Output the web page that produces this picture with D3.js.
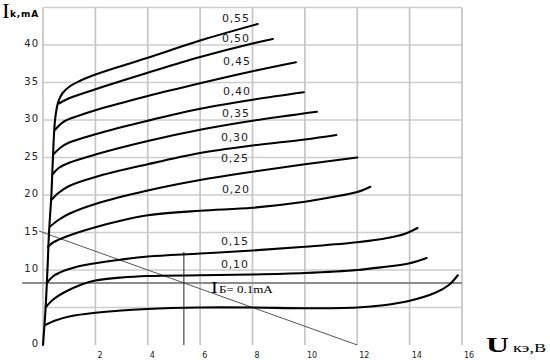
<!DOCTYPE html>
<html>
<head>
<meta charset="utf-8">
<script src="https://cdn.jsdelivr.net/npm/d3@7"></script>
<style>
  html, body { margin: 0; padding: 0; background: #fff; }
  svg { display: block; }
</style>
</head>
<body>
<svg id="chart" width="550" height="360"></svg>
<script>
// ---- data (Uкэ in V, Ik in mA) ----
const xTicks = [2, 4, 6, 8, 10, 12, 14, 16];
const yTicks = [0, 10, 15, 20, 25, 30, 35, 40];
const xGrid = [0, 2, 4, 6, 8, 10, 12, 14, 16];
const yGrid = [5, 10, 15, 20, 25, 30, 35, 40, 45];

const curveLabels = ["0,55", "0,50", "0,45", "0,40", "0,35", "0,30", "0,25", "0,20", "0,15", "0,10", "IБ"];

const ib055 = [[0,0],[0.1,5],[0.17,10],[0.23,15],[0.32,20],[0.38,25],[0.46,30],[0.58,32.4],[0.75,33.6],[1.03,34.5],[1.4,35.2],[1.8,35.8],[3,37.2],[4,38.3],[6,40.6],[8.2,42.8]];
const ib050 = [[0.6,32.2],[1,32.9],[2,34.1],[4,36.3],[6,38.4],[8,40.2],[8.78,40.8]];
const ib045 = [[0.46,28.7],[0.8,29.8],[1.3,30.5],[2,31.3],[4,33.2],[6,34.9],[8,36.5],[9.66,37.7]];
const ib040 = [[0.39,25.4],[0.7,26.4],[1,27],[2,28.1],[4,29.9],[6,31.5],[8,32.7],[9.96,33.7]];
const ib035 = [[0.35,22.7],[0.6,23.6],[1,24.3],[2,25.4],[4,27.2],[6,28.7],[8,29.9],[10.46,31.1]];
const ib030 = [[0.31,19.3],[0.6,20.3],[1,21.2],[2,22.4],[4,24.1],[6,25.6],[8,26.6],[10,27.4],[11.2,28]];
const ib025 = [[0.27,15.8],[0.6,16.7],[1,17.5],[2,18.8],[4,20.6],[6,22],[8,23.1],[10,24.1],[12,25]];
const ib020 = [[0.19,13.1],[0.4,13.7],[1,14.6],[2,15.7],[3,16.6],[4,17.3],[6,17.9],[8,18.3],[10,19.1],[11,19.7],[12,20.4],[12.5,21.1]];
const ib015 = [[0.15,8.3],[0.4,9.2],[0.8,9.9],[1.5,10.6],[2,10.9],[3,11.4],[4,11.8],[6,12.2],[8,12.6],[10,13.1],[12,13.7],[13.2,14.3],[13.8,14.8],[14.3,15.6]];
const ib010 = [[0.11,5.07],[0.4,6.1],[0.8,7],[1.5,8.1],[2,8.6],[3,9],[4,9.2],[6,9.3],[8,9.4],[10,9.6],[12,10],[13,10.4],[14,10.9],[14.65,11.6]];
const ib005 = [[0.08,2.67],[0.5,3.3],[1,3.8],[2,4.3],[4,4.8],[6,5.0],[8,5.0],[10,4.9],[12,5.0],[13,5.3],[14,5.9],[15,7.0],[15.5,8.0],[15.84,9.3]];

const loadLine = [[-0.15,15.19],[12,0]];
const opLevel = [[-0.8,8.27],[16,8.27]];
const opVertical = [[5.38,0],[5.38,12.4]];

// ---- drawing ----
const svg = d3.select("#chart");
const x = d3.scaleLinear().domain([0, 16]).range([43, 462]);
const y = d3.scaleLinear().domain([0, 45]).range([345, 7.5]);

// grid
svg.append("g").selectAll("line").data(yGrid).join("line")
  .attr("x1", x(0)).attr("x2", x(16))
  .attr("y1", d => y(d)).attr("y2", d => y(d))
  .attr("stroke", "#cdcdcd").attr("stroke-width", 1.3);
svg.append("g").selectAll("line").data(xGrid).join("line")
  .attr("x1", d => x(d)).attr("x2", d => x(d))
  .attr("y1", y(45)).attr("y2", y(0))
  .attr("stroke", "#c6c6c6").attr("stroke-width", 1.7);

const line = d3.line().x(d => x(d[0])).y(d => y(d[1]));

// operating lines
svg.append("path").datum(opLevel).attr("d", line)
  .attr("stroke", "#8c8c8c").attr("stroke-width", 2).attr("fill", "none");
svg.append("path").datum(loadLine).attr("d", line)
  .attr("stroke", "#555").attr("stroke-width", 1).attr("fill", "none");
svg.append("path").datum(opVertical).attr("d", line)
  .attr("stroke", "#222").attr("stroke-width", 1).attr("fill", "none");

// characteristic curves
const curves = [ib055, ib050, ib045, ib040, ib035, ib030, ib025, ib020, ib015, ib010, ib005];
const smooth = d3.line().x(d => x(d[0])).y(d => y(d[1])).curve(d3.curveCatmullRom.alpha(0.5));
svg.append("g").selectAll("path").data(curves).join("path")
  .attr("d", smooth)
  .attr("fill", "none").attr("stroke", "#000").attr("stroke-width", 2.1)
  .attr("stroke-linejoin", "round").attr("stroke-linecap", "round");

// axes
const yAxis = d3.axisLeft(y).tickValues(yTicks).tickSize(0).tickPadding(2).tickFormat(d => d);
const gy = svg.append("g").attr("transform", "translate(41,-1.5)").call(yAxis);
gy.select(".domain").remove();
gy.selectAll("text").attr("font-family", "DejaVu Sans").attr("font-size", 10)
  .attr("letter-spacing", 1).attr("fill", "#222");

const xAxis = d3.axisBottom(x).tickValues(xTicks).tickSize(0).tickPadding(7).tickFormat(d => d);
const gx = svg.append("g").attr("transform", "translate(0,345)").call(xAxis);
gx.select(".domain").remove();
gx.selectAll("text").attr("font-family", "DejaVu Sans").attr("font-size", 8)
  .attr("text-anchor", "start").attr("dx", 1.5).attr("fill", "#222");

// helper: horizontally stretched text
function sText(px, py, str, sx, font, size, weight) {
  const g = svg.append("g").attr("transform", `translate(${px},${py}) scale(${sx},1)`);
  g.append("text").attr("x", 0).attr("y", 0).attr("font-family", font)
    .attr("font-size", size).attr("font-weight", weight || "normal").attr("fill", "#000").text(str);
  return g;
}

// curve labels
const labelPos = [[222,22],[222,42],[223,65],[223,95],[222,117],[221,141],[221,162],[222,193],[221,245],[221,268]];
labelPos.forEach((p, i) => {
  svg.append("text").attr("x", p[0]).attr("y", p[1])
    .attr("font-family", "DejaVu Sans").attr("font-size", 11).attr("letter-spacing", 0.8)
    .attr("fill", "#222").text(curveLabels[i]);
});
// IБ= 0.1mA label
sText(211, 293, "I", 1.2, "Liberation Serif", 17);
sText(219, 293, "Б= 0.1mA", 1.3, "Liberation Serif", 10);

// axis titles
sText(2, 18, "I", 1.1, "Liberation Serif", 21);
svg.append("text").attr("x", 10).attr("y", 17).attr("font-family", "DejaVu Sans")
  .attr("font-size", 9).attr("font-weight", "bold").attr("letter-spacing", 0.8).text("k,mA");
sText(486, 352, "U", 1.45, "Liberation Serif", 22, "bold");
sText(513, 352, "кэ,B", 1.4, "Liberation Serif", 13);
</script>
</body>
</html>
